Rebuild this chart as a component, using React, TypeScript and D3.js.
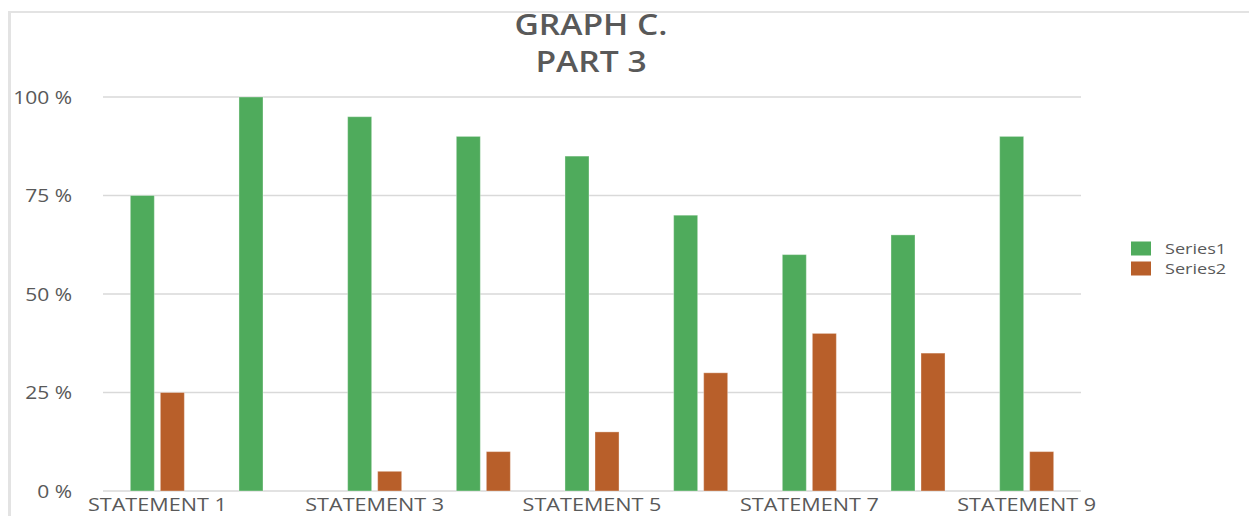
import React from "react";
import * as d3 from "d3";

const categories = [
  "STATEMENT 1", "STATEMENT 2", "STATEMENT 3", "STATEMENT 4", "STATEMENT 5",
  "STATEMENT 6", "STATEMENT 7", "STATEMENT 8", "STATEMENT 9",
];
const seriesNames = ["Series1", "Series2"];
const series1 = [75, 100, 95, 90, 85, 70, 60, 65, 90];
const series2 = [25, 0, 5, 10, 15, 30, 40, 35, 10];
const yTicks = [0, 25, 50, 75, 100];
const titleLines = ["GRAPH C.", "PART 3"];

const W = 1249;
const H = 516;
const colors = ["#4FAB5C", "#B85F2A"];
const textColor = "#595959";
const gridColor = "#D9D9D9";
const font = "'Open Sans', sans-serif";
const SX = 1.2;

export default function App() {
  const left = 103;
  const right = 1081;
  const top = 97;
  const bottom = 491;

  const x0 = d3.scaleBand<string>().domain(categories).range([left, right]).paddingInner(0).paddingOuter(0);
  const x1 = d3
    .scaleBand<string>()
    .domain(seriesNames)
    .range([0, x0.bandwidth()])
    .paddingInner(0.2)
    .paddingOuter(0.91);
  const y = d3.scaleLinear().domain([0, 100]).range([bottom, top]);

  const data = [series1, series2];

  return (
    <svg
      width={W}
      height={H}
      style={{ position: "absolute", left: 0, top: 0, background: "#fff" }}
      fontFamily={font}
    >
      <rect x={0} y={0} width={W} height={H} fill="#fff" />
      {/* frame */}
      <line x1={9} x2={W} y1={12} y2={12} stroke="#E3E3E3" strokeWidth={2} />
      <line x1={9.5} x2={9.5} y1={11} y2={H} stroke="#E3E3E3" strokeWidth={3} />

      {/* title */}
      {titleLines.map((t, i) => (
        <text
          key={t}
          transform={`translate(591,${35 + i * 37}) scale(${SX},1)`}
          textAnchor="middle"
          fontSize={28}
          fontWeight={600}
          fill={textColor}
        >
          {t}
        </text>
      ))}

      {/* gridlines */}
      {yTicks.map((v) => (
        <line
          key={v}
          x1={left}
          x2={right}
          y1={y(v)}
          y2={y(v)}
          stroke={gridColor}
          strokeWidth={1.5}
        />
      ))}

      {/* y labels */}
      {yTicks.map((v) => (
        <text
          key={v}
          transform={`translate(72,${y(v)}) scale(${SX},1)`}
          textAnchor="end"
          dominantBaseline="central"
          fontSize={17.5}
          fontWeight={500}
          fill={textColor}
        >
          {`${v} %`}
        </text>
      ))}

      {/* bars */}
      {categories.map((c, ci) => (
        <g key={c} transform={`translate(${x0(c)},0)`}>
          {seriesNames.map((s, si) => {
            const v = data[si][ci];
            if (v <= 0) return null;
            return (
              <rect
                key={s}
                x={x1(s)}
                y={y(v)}
                width={x1.bandwidth()}
                height={y(0) - y(v)}
                fill={colors[si]}
                stroke="rgba(255,255,255,0.35)"
                strokeWidth={1}
              />
            );
          })}
        </g>
      ))}

      {/* x labels */}
      {categories.map((c, i) =>
        i % 2 === 0 ? (
          <text
            key={c}
            transform={`translate(${(x0(c) as number) + x0.bandwidth() / 2},511) scale(${SX},1)`}
            textAnchor="middle"
            fontSize={18}
            fontWeight={500}
            fill={textColor}
          >
            {c}
          </text>
        ) : null
      )}

      {/* legend */}
      {seriesNames.map((s, i) => (
        <g key={s} transform={`translate(1131,${241.5 + i * 20})`}>
          <rect x={0} y={0} width={20} height={14} fill={colors[i]} />
          <text
            transform={`translate(34,7) scale(1.25,1.05)`}
            dominantBaseline="central"
            fontSize={14.5}
            fontWeight={500}
            fill={textColor}
          >
            {s}
          </text>
        </g>
      ))}
    </svg>
  );
}
